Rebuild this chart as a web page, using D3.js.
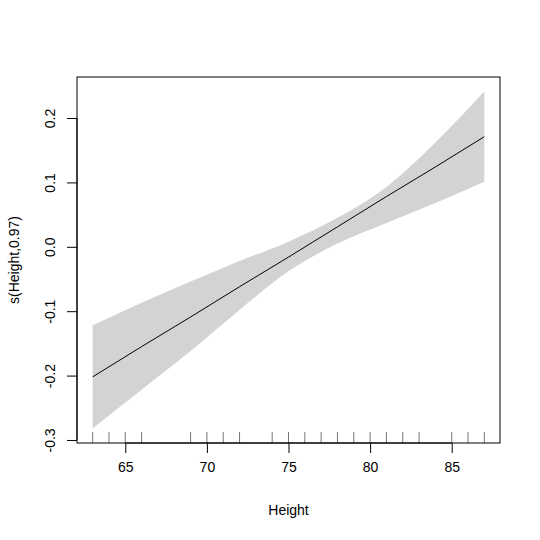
<!DOCTYPE html><html><head><meta charset="utf-8"><script src="https://cdn.jsdelivr.net/npm/d3@7"></script>
<style>body{margin:0;background:#fff}text{font-family:"Liberation Sans",Arial,sans-serif;font-size:14px;fill:#000}</style></head><body>
<svg id="c" width="540" height="540"></svg>
<script>
const heights=[63,66,69,72,75,78,81,84,87];
const fit=[-0.202,-0.155,-0.109,-0.062,-0.016,0.031,0.078,0.124,0.171];
const upper=[-0.122,-0.087,-0.054,-0.022,0.008,0.045,0.093,0.162,0.241];
const lower=[-0.282,-0.222,-0.162,-0.098,-0.038,0.005,0.037,0.068,0.101];
const rug=[63,64,65,66,69,70,71,72,74,75,76,77,78,79,80,81,82,83,85,86,87];
const xTicks=[65,70,75,80,85];
const yTicks=[-0.3,-0.2,-0.1,0.0,0.1,0.2];
const svg=d3.select("#c");
const L=77,R=500,T=77,B=443;
const x=d3.scaleLinear().domain([62.04,87.96]).range([L,R]);
const y=d3.scaleLinear().domain([-0.3047,0.2637]).range([B,T]);
const band=heights.map((h,i)=>({h,u:upper[i],l:lower[i],f:fit[i]}));
svg.append("path").datum(band).attr("fill","#d3d3d3")
 .attr("d",d3.area().curve(d3.curveMonotoneX).x(d=>x(d.h)).y0(d=>y(d.l)).y1(d=>y(d.u)));
svg.append("path").datum(band).attr("fill","none").attr("stroke","#000").attr("stroke-width",1)
 .attr("d",d3.line().x(d=>x(d.h)).y(d=>y(d.f)));
svg.selectAll(".rug").data(rug).enter().append("line")
 .attr("x1",d=>x(d)).attr("x2",d=>x(d)).attr("y1",B).attr("y2",B-11).attr("stroke","#555").attr("stroke-width",0.8);
svg.append("rect").attr("x",L).attr("y",T).attr("width",R-L).attr("height",B-T).attr("fill","none").attr("stroke","#000");
const fmtY=d=>d3.format(".1f")(d).replace("\u2212","-");
const xa=svg.append("g").attr("transform",`translate(0,${B})`).call(d3.axisBottom(x).tickValues(xTicks).tickSize(10).tickPadding(9).tickFormat(d3.format("d")));
const ya=svg.append("g").attr("transform",`translate(${L},0)`).call(d3.axisLeft(y).tickValues(yTicks).tickSize(10).tickFormat(fmtY));
[xa,ya].forEach(a=>{a.attr("font-size",null).attr("font-family",null);a.select(".domain").remove();a.selectAll("text").style("font-size","14px")});
ya.selectAll(".tick text").attr("transform","rotate(-90)").attr("x",0).attr("y",-27).attr("dy","0.35em").style("text-anchor","middle");
svg.append("line").attr("x1",x(65)).attr("x2",x(85)).attr("y1",B).attr("y2",B).attr("stroke","#000");
svg.append("line").attr("x1",L).attr("x2",L).attr("y1",y(-0.3)).attr("y2",y(0.2)).attr("stroke","#000");
svg.append("text").attr("x",(L+R)/2).attr("y",515).attr("text-anchor","middle").text("Height");
svg.append("text").attr("transform",`translate(19,${(T+B)/2}) rotate(-90)`).attr("text-anchor","middle").text("s(Height,0.97)");
</script></body></html>
